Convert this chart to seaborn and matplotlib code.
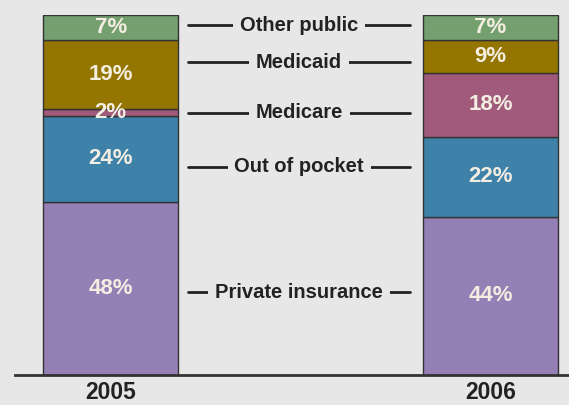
import numpy as np
import matplotlib
matplotlib.use('Agg')
import matplotlib.pyplot as plt
import pandas as pd
import seaborn as sns

# Dados
anos = ['2005', '2006']
categorias = ['Private insurance', 'Out of pocket', 'Medicare', 'Medicaid', 'Other public']
private_insurance = [48, 44]
out_of_pocket = [24, 22]
medicare = [2, 18]
medicaid = [19, 9]
other_public = [7, 7]
rotulos_y = [23, 57.8, 72.8, 86.9, 97.2]  # altura dos rótulos centrais

cores = ['#9580B5', '#3E82A9', '#A15A7B', '#937500', '#74A070']
fundo = '#E6E7E6'

sns.set_theme(style='white')
plt.rcParams['font.family'] = ['Liberation Sans', 'DejaVu Sans']

fig = plt.figure(figsize=(5.69, 4.05), dpi=100, facecolor=fundo)
ax = fig.add_axes([15 / 569, 30 / 405, 554 / 569, 360 / 405])
ax.set_facecolor(fundo)

series = [private_insurance, out_of_pocket, medicare, medicaid, other_public]
base = np.zeros(len(anos))
for valores, cor in zip(series, cores):
    df = pd.DataFrame({'ano': anos, 'valor': valores})
    sns.barplot(data=df, x='ano', y='valor', ax=ax, color=cor, bottom=base,
                width=0.3555, edgecolor='#333333', linewidth=1.0, saturation=1)
    for i, v in enumerate(valores):
        ax.text(i, base[i] + v / 2, f'{v}%', ha='center', va='center',
                color='#F4EEE2', fontsize=16, fontweight='bold')
    base = base + np.array(valores)

# Rótulos centrais com linhas
for nome, y in zip(categorias, rotulos_y):
    ax.plot([0.2035, 0.788], [y, y], color='#222222', lw=2, zorder=3)
    ax.text(0.496, y, nome, ha='center', va='center', fontsize=14.5,
            fontweight='bold', color='#222222', zorder=4,
            bbox=dict(facecolor=fundo, edgecolor='none', pad=5))

ax.set_xlim(-0.2521, 1.2067)
ax.set_ylim(0, 100)
ax.set_xlabel('')
ax.set_ylabel('')
ax.set_yticks([])
for s in ['top', 'right', 'left']:
    ax.spines[s].set_visible(False)
ax.spines['bottom'].set_color('#333333')
ax.spines['bottom'].set_linewidth(2)
ax.tick_params(axis='x', length=0, pad=4)
for t in ax.get_xticklabels():
    t.set_fontsize(16.5)
    t.set_fontweight('bold')
    t.set_color('#222222')

fig.savefig('out.png', dpi=100, facecolor=fundo)
